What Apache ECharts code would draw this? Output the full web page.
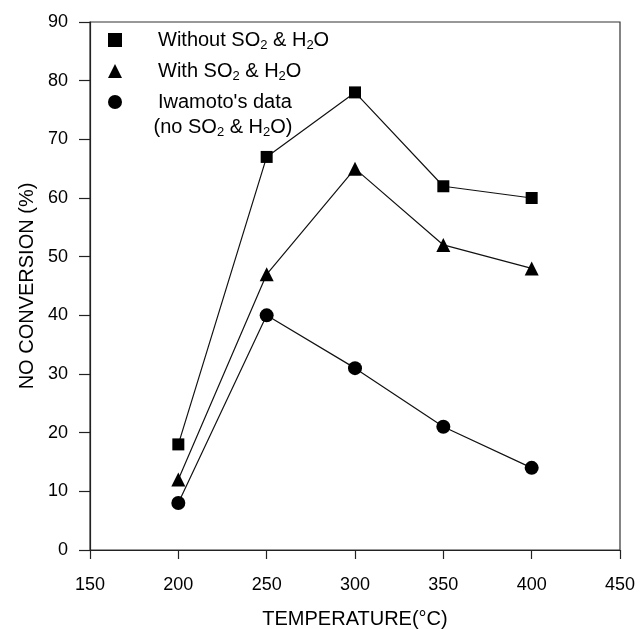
<!DOCTYPE html>
<html>
<head>
<meta charset="utf-8">
<script src="https://cdn.jsdelivr.net/npm/echarts@6/dist/echarts.min.js"></script>
<style>html,body{margin:0;padding:0;background:#fff}#c{width:640px;height:629px}</style>
</head>
<body>
<div id="c"></div>
<script>
const temperatures = [200, 250, 300, 350, 400];
const withoutSO2H2O = [18, 67, 78, 62, 60];
const withSO2H2O = [12, 47, 65, 52, 48];
const iwamotoData = [8, 40, 31, 21, 14];
const seriesNames = ['Without SO2 & H2O', 'With SO2 & H2O', "Iwamoto's data"];
const xTicks = [150, 200, 250, 300, 350, 400, 450];
const yTicks = [0, 10, 20, 30, 40, 50, 60, 70, 80, 90];

const FONT = '"Liberation Sans", Arial, sans-serif';
const chart = echarts.init(document.getElementById('c'), null, {renderer: 'canvas'});

function pairs(xs, ys) { return xs.map((x, i) => [x, ys[i]]); }

const legendRich = {
  sp: {width: 31, fontSize: 20, fontFamily: FONT},
  n: {fontSize: 20, fontFamily: FONT, color: '#000', lineHeight: 24, verticalAlign: 'middle'},
  sub: {fontSize: 13, fontFamily: FONT, color: '#000', lineHeight: 24, verticalAlign: 'bottom'}
};

function legendLabel(name) {
  if (name === seriesNames[0]) return '{sp|}{n|Without SO}{sub|2}{n| & H}{sub|2}{n|O}';
  if (name === seriesNames[1]) return '{sp|}{n|With SO}{sub|2}{n| & H}{sub|2}{n|O}';
  return "{sp|}{n|Iwamoto's data}";
}

const axisLineStyle = {color: '#222', width: 1.2};

chart.setOption({
  animation: false,
  backgroundColor: '#fff',
  grid: {left: 90, right: 20, top: 22, bottom: 79, show: true, borderColor: '#333', borderWidth: 1.2,
    containLabel: false, outerBoundsMode: 'none'},
  xAxis: {
    type: 'value', min: xTicks[0], max: xTicks[xTicks.length - 1], interval: 50,
    name: 'TEMPERATURE(°C)', nameLocation: 'middle', nameGap: 59,
    nameTextStyle: {fontFamily: FONT, fontSize: 20, color: '#000'},
    axisLine: {show: true, onZero: false, lineStyle: axisLineStyle},
    axisTick: {show: true, inside: false, length: 9, lineStyle: axisLineStyle},
    axisLabel: {fontFamily: FONT, fontSize: 18, color: '#000', margin: 26,
      formatter: v => xTicks.includes(v) ? String(v) : ''},
    splitLine: {show: false}
  },
  yAxis: {
    type: 'value', min: yTicks[0], max: yTicks[yTicks.length - 1], interval: 10,
    name: 'NO CONVERSION (%)', nameLocation: 'middle', nameGap: 52,
    nameTextStyle: {fontFamily: FONT, fontSize: 20, color: '#000'},
    axisLine: {show: true, onZero: false, lineStyle: axisLineStyle},
    axisTick: {show: true, inside: false, length: 11, lineStyle: axisLineStyle},
    axisLabel: {fontFamily: FONT, fontSize: 18, color: '#000', margin: 22,
      formatter: v => yTicks.includes(v) ? String(v) : ''},
    splitLine: {show: false}
  },
  legend: {
    orient: 'vertical', left: 103, top: 25, itemWidth: 14, itemHeight: 14, itemGap: 9,
    selectedMode: false,
    data: [
      {name: seriesNames[0], icon: 'rect', itemStyle: {color: '#000'}},
      {name: seriesNames[1], icon: 'triangle', itemStyle: {color: '#000'}},
      {name: seriesNames[2], icon: 'circle', itemStyle: {color: '#000'}}
    ],
    formatter: legendLabel,
    textStyle: {rich: legendRich, fontFamily: FONT, fontSize: 20, color: '#000'}
  },
  graphic: [{
    type: 'text', x: 223, y: 127,
    style: {
      text: '{n|(no SO}{sub|2}{n| & H}{sub|2}{n|O)}',
      align: 'center', verticalAlign: 'middle',
      rich: {
        n: {fontSize: 20, fontFamily: FONT, fill: '#000', lineHeight: 24, verticalAlign: 'middle'},
        sub: {fontSize: 13, fontFamily: FONT, fill: '#000', lineHeight: 24, verticalAlign: 'bottom'}
      }
    }
  }],
  series: [
    {name: seriesNames[0], type: 'line', data: pairs(temperatures, withoutSO2H2O),
      symbol: 'rect', symbolSize: 12, lineStyle: {color: '#111', width: 1.2},
      itemStyle: {color: '#000'}},
    {name: seriesNames[1], type: 'line', data: pairs(temperatures, withSO2H2O),
      symbol: 'triangle', symbolSize: 14, lineStyle: {color: '#111', width: 1.2},
      itemStyle: {color: '#000'}},
    {name: seriesNames[2], type: 'line', data: pairs(temperatures, iwamotoData),
      symbol: 'circle', symbolSize: 14, lineStyle: {color: '#111', width: 1.2},
      itemStyle: {color: '#000'}}
  ]
});
</script>
</body>
</html>
